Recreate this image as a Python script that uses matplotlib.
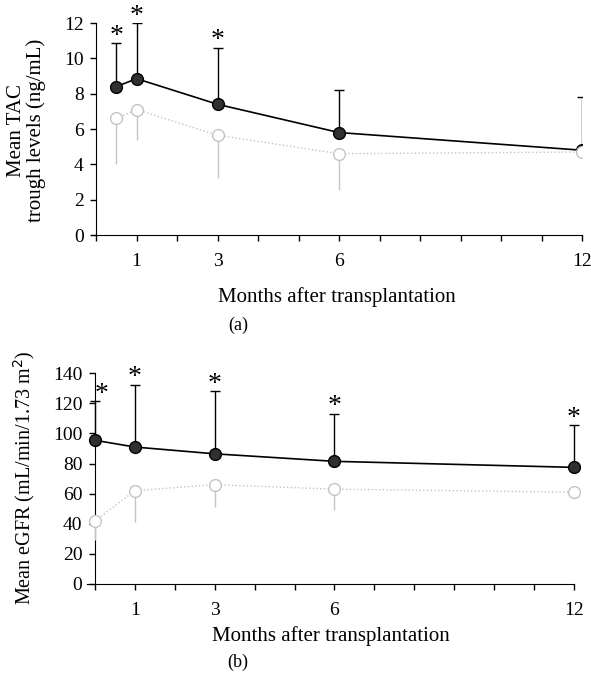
import numpy as np
import matplotlib
matplotlib.use("Agg")
import matplotlib.pyplot as plt

plt.rcParams['font.family'] = ['Liberation Serif', 'DejaVu Serif']

# panel (a): TAC trough levels
months_a = [0.5, 1, 3, 6, 12]
tac_hi = [8.4, 8.85, 7.4, 5.8, 4.8]
tac_hi_sd = [2.45, 3.15, 3.2, 2.4, 3.0]
tac_lo = [6.6, 7.1, 5.65, 4.6, 4.7]
tac_lo_sd = [2.6, 1.7, 2.45, 2.05, 0.0]
stars_a = [True, True, True, False, False]

# panel (b): eGFR
months_b = [0, 1, 3, 6, 12]
egfr_hi = [95.5, 91, 86.5, 81.5, 77.5]
egfr_hi_sd = [26, 41.5, 41.5, 31.5, 28]
egfr_lo = [42, 62, 66, 63, 61]
egfr_lo_sd = [13, 21, 15, 14, 0]
stars_b = [True, True, True, True, True]

tick_months = list(range(13))
label_months = [1, 3, 6, 12]

fig = plt.figure(figsize=(5.91, 6.89), dpi=100)
ax1 = fig.add_axes([0.1557, 0.6589, 0.8291, 0.3077])
ax2 = fig.add_axes([0.1472, 0.1524, 0.8240, 0.3058])

grey = '#c4c4c4'


def draw(ax, x, hi, hi_sd, lo, lo_sd, stars, xmin, ymax, ystep, star_dx, clip):
    # light series: open circles, dotted line, error bars downward
    ax.errorbar(x, lo, yerr=[lo_sd, np.zeros(len(lo_sd))], fmt='o', ls=':',
                color=grey, ecolor=grey, elinewidth=1.0, capsize=0,
                mfc='white', mec=grey, ms=8.5, lw=1.0, zorder=4,
                clip_on=clip)
    # dark series: filled circles, solid line, error bars upward
    ax.errorbar(x, hi, yerr=[np.zeros(len(hi_sd)), hi_sd], fmt='o', ls='-',
                color='black', ecolor='black', elinewidth=1.0, capsize=3.5,
                capthick=1.0, mfc='#303030', mec='black', ms=8.5, lw=1.2,
                zorder=3, clip_on=clip)
    for xi, yi, si, st, dx in zip(x, hi, hi_sd, stars, star_dx):
        if st:
            ax.annotate('*', (xi, yi + si), xytext=(dx, -4),
                        textcoords='offset points', ha='center', va='bottom',
                        fontsize=20)
    ax.set_xlim(xmin, 12.0)
    ax.set_ylim(0, ymax)
    ax.spines['left'].set_position(('data', 0))
    ax.spines['right'].set_visible(False)
    ax.spines['top'].set_visible(False)
    ax.set_xticks(tick_months)
    ax.set_xticklabels([str(m) if m in label_months else '' for m in tick_months])
    ax.set_yticks(np.arange(0, ymax + ystep / 2, ystep))
    ax.tick_params(labelsize=14, length=4, width=1.0, pad=9)
    ax.tick_params(axis='y', pad=5)


draw(ax1, months_a, tac_hi, tac_hi_sd, tac_lo, tac_lo_sd, stars_a,
     -0.1, 12, 2, [0, 0, 0, 0, 0], True)
ax1.set_ylabel('Mean TAC\ntrough levels (ng/mL)', fontsize=15,
               linespacing=1.0)
ax1.yaxis.set_label_coords(-0.094, 0.495)
ax1.set_xlabel('Months after transplantation', fontsize=15, labelpad=12)

draw(ax2, months_b, egfr_hi, egfr_hi_sd, egfr_lo, egfr_lo_sd, stars_b,
     -0.2, 140, 20, [5, 0, 0, 0, 0], False)
ax2.set_ylabel('Mean eGFR (mL/min/1.73 m$^2$)', fontsize=14.5)
ax2.yaxis.set_label_coords(-0.103, 0.505)
ax2.set_xlabel('Months after transplantation', fontsize=15, labelpad=5)

fig.text(0.4027, 0.528, '(a)', fontsize=13, ha='center', va='center')
fig.text(0.4027, 0.038, '(b)', fontsize=13, ha='center', va='center')

fig.savefig('out.png', dpi=100)
